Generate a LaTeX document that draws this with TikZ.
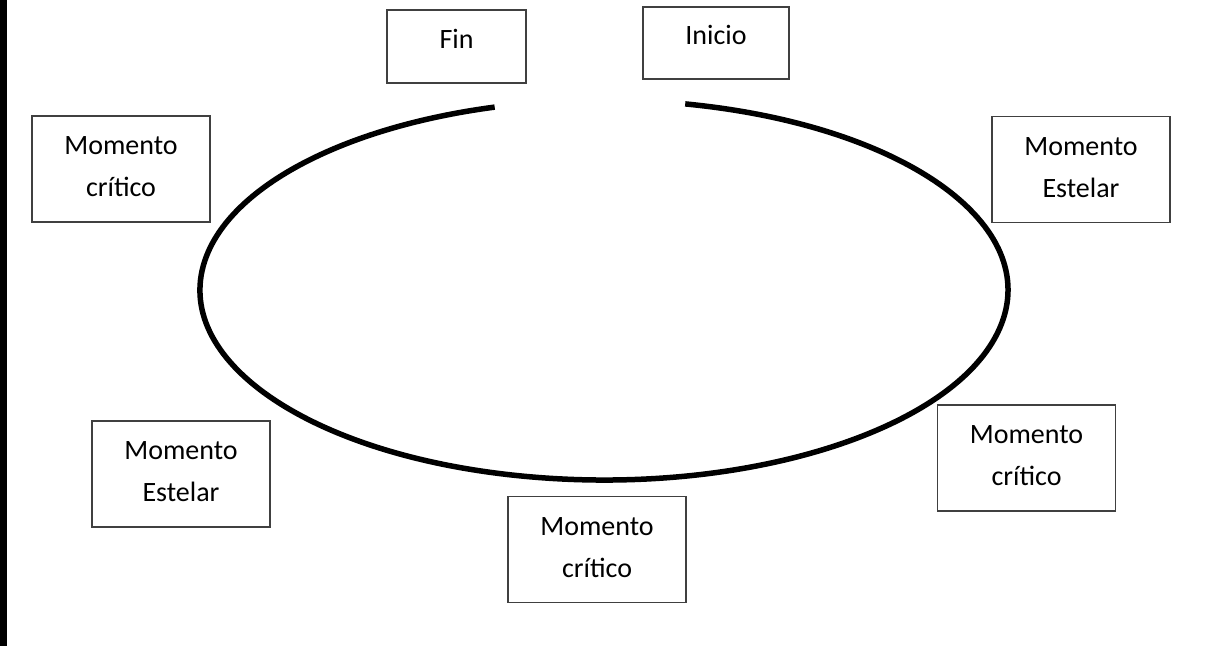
\documentclass[tikz,border=0pt]{standalone}
\usepackage{fontspec}
\setmainfont{Carlito}
\begin{document}
\begin{tikzpicture}[x=1pt,y=-1pt,
  box/.style={draw=black!75, line width=1.1pt, align=center, inner sep=0pt,
    font=\fontsize{28}{42}\selectfont},
  twoline/.style={box, minimum width=178pt, minimum height=106pt, text depth=4pt},
  oneline/.style={box, text height=14pt, text depth=11pt},
  ring/.style={line width=5.5pt, line cap=butt}]
\useasboundingbox (0,0) rectangle (1212,646);
\fill[black] (0,0) rectangle (7,646);
% boxes
\node[oneline, minimum width=139pt, minimum height=73pt] (fin) at (456.5,46.5) {Fin};
\node[oneline, minimum width=146pt, minimum height=72pt] (inicio) at (716,43) {Inicio};
\node[twoline] (critTL) at (121,169) {Momento\\crítico};
\node[twoline] (estR) at (1081,169.5) {Momento\\Estelar};
\node[twoline] (critR) at (1026.5,458) {Momento\\crítico};
\node[twoline] (critB) at (597,549.5) {Momento\\crítico};
\node[twoline] (estL) at (181,474) {Momento\\Estelar};
% ring
\coordinate (ringstart) at (685.2,103.9);
\draw[ring] (ringstart) arc[start angle=-78.4, end angle=254.3, x radius=404, y radius=190];
\end{tikzpicture}
\end{document}
